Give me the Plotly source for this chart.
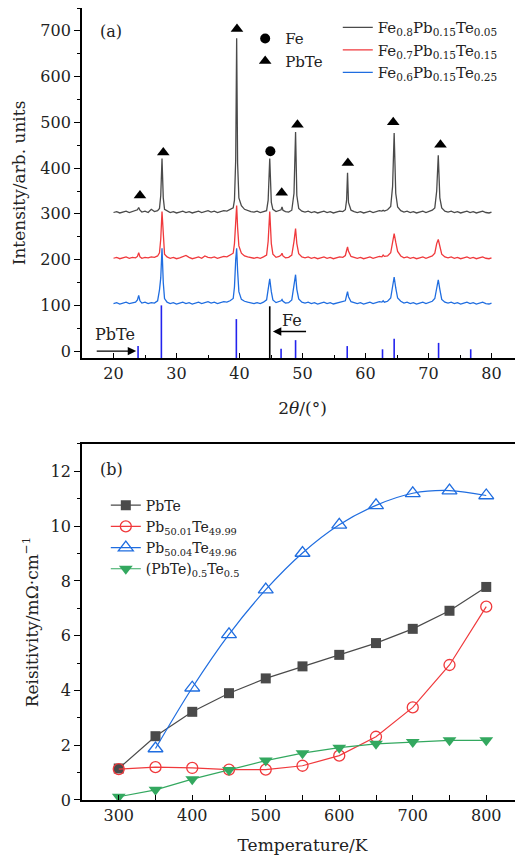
import plotly.graph_objects as go

# ---------------- (a) XRD data ----------------
two_theta = [
    20.0, 20.5, 21.0, 21.5, 22.0, 22.5, 23.0, 23.5,
    23.8, 24.0, 24.2,
    24.5, 25.0, 25.5, 26.0, 26.5, 27.0,
    27.3, 27.5, 27.7, 27.9, 28.1,
    28.5, 29.0, 29.5, 30.0, 30.5, 31.0, 31.5, 32.0, 32.5, 33.0, 33.5, 34.0, 34.5, 35.0, 35.5, 36.0, 36.5, 37.0, 37.5, 38.0, 38.5, 39.0,
    39.2, 39.4, 39.55, 39.7, 39.9,
    40.3, 40.8, 41.3, 41.8, 42.3, 42.8, 43.3, 43.8, 44.3,
    44.55, 44.8, 45.05, 45.3,
    45.8, 46.3,
    46.6, 46.75, 46.9,
    47.3, 47.8, 48.3,
    48.65, 48.9, 49.1, 49.4,
    49.9, 50.4, 50.9, 51.4, 51.9, 52.4, 52.9, 53.4, 53.9, 54.4, 54.9, 55.4, 55.9, 56.4, 56.8,
    57.0, 57.15, 57.3,
    57.7, 58.2, 58.7, 59.2, 59.7, 60.2, 60.7, 61.2, 61.7, 62.2, 62.6,
    62.8, 63.0,
    63.5, 64.0,
    64.3, 64.55, 64.8, 65.1,
    65.6, 66.1, 66.6, 67.1, 67.6, 68.1, 68.6, 69.1, 69.6, 70.1, 70.6, 71.0,
    71.3, 71.55, 71.8, 72.1,
    72.6, 73.1, 73.6, 74.1, 74.6, 75.1, 75.6, 76.1, 76.6, 77.1, 77.6, 78.1, 78.6, 79.1, 79.6, 80.0,
]

I_fe08 = [
    303, 305, 302, 304, 306, 303, 305, 307,
    309, 314, 308,
    304, 306, 303, 310, 305, 307,
    312, 340, 421, 335, 310,
    306, 303, 305, 302, 304, 306, 303, 305, 302, 304, 306, 303, 305, 307, 304, 306, 303, 305, 307, 306, 309, 313,
    330, 420, 684, 410, 335,
    318, 310, 307, 305, 304, 306, 303, 305, 307,
    330, 421, 325, 310,
    305, 307,
    309, 315, 308,
    305, 304, 308,
    345, 479, 340, 312,
    306, 304, 306, 303, 305, 302, 304, 306, 303, 305, 302, 304, 306, 305, 309,
    330, 390, 325,
    308, 305, 303, 305, 302, 304, 306, 303, 305, 307, 306,
    308, 306,
    309, 316,
    360, 477, 345, 315,
    307, 304, 306, 303, 305, 302, 304, 306, 303, 305, 308, 313,
    350, 428, 335, 313,
    306, 304, 306, 303, 305, 302, 304, 306, 303, 305, 302, 304, 306, 303, 302, 304,
]

I_fe07 = [
    203, 205, 202, 204, 206, 203, 205, 204,
    207, 215, 206,
    203, 205, 204, 206, 205, 208,
    215, 245, 305, 240, 212,
    206, 203, 205, 202, 204, 206, 209, 205, 202, 204, 206, 203, 208, 205, 204, 206, 203, 205, 207, 206, 210, 214,
    235, 290, 318, 270, 230,
    214, 208, 206, 204, 203, 205, 203, 206, 210,
    240, 305, 235, 212,
    205, 207,
    210, 214, 208,
    204, 205, 210,
    240, 268, 235, 213,
    206, 204, 206, 203, 205, 202, 204, 206, 203, 205, 202, 204, 206, 205, 209,
    220, 228, 218,
    207, 205, 203, 205, 202, 204, 206, 203, 205, 207, 206,
    210, 207,
    208, 215,
    240, 257, 238, 218,
    208, 204, 206, 203, 205, 202, 204, 206, 203, 205, 208, 214,
    235, 244, 232, 212,
    206, 204, 206, 203, 205, 202, 204, 206, 203, 205, 202, 204, 206, 203, 202, 204,
]

I_fe06 = [
    104, 106, 103, 105, 107, 104, 106, 107,
    112, 122, 110,
    105, 107, 104, 106, 105, 110,
    134, 160, 225, 150, 115,
    107, 104, 106, 103, 105, 107, 104, 106, 103, 105, 107, 104, 106, 108, 105, 107, 104, 106, 108, 107, 110, 115,
    140, 200, 225, 175, 130,
    113, 109, 107, 105, 104, 106, 104, 107, 112,
    135, 158, 130, 112,
    106, 108,
    110, 113, 109,
    105, 106, 112,
    140, 167, 135, 114,
    107, 105, 107, 104, 106, 103, 105, 107, 104, 106, 103, 105, 107, 108, 110,
    122, 130, 119,
    108, 106, 104, 106, 103, 105, 107, 104, 106, 108, 107,
    110, 107,
    109, 116,
    140, 162, 138, 116,
    109, 105, 107, 104, 106, 103, 105, 107, 104, 106, 109, 115,
    140, 156, 135, 113,
    107, 105, 107, 104, 106, 103, 105, 107, 104, 106, 103, 105, 107, 104, 103, 105,
]

xrd_names = [
    "Fe<sub>0.8</sub>Pb<sub>0.15</sub>Te<sub>0.05</sub>",
    "Fe<sub>0.7</sub>Pb<sub>0.15</sub>Te<sub>0.15</sub>",
    "Fe<sub>0.6</sub>Pb<sub>0.15</sub>Te<sub>0.25</sub>",
]

# reference stick patterns
pbte_ref_pos = [23.9, 27.6, 39.5, 46.6, 48.9, 57.1, 62.7, 64.55, 71.6, 76.7]
pbte_ref_int = [11, 100, 70, 5, 24, 11, 4, 27, 18, 4]
fe_ref_pos = [44.8]
fe_ref_int = [98]

# peak markers
fe_mark_x = [44.9]
fe_mark_y = [437]
pbte_mark_x = [24.2, 27.9, 39.6, 46.7, 49.2, 57.2, 64.4, 71.9]
pbte_mark_y = [340, 434, 704, 346, 495, 411, 500, 451]

# ---------------- (b) resistivity data ----------------
temperature = [300, 350, 400, 450, 500, 550, 600, 650, 700, 750, 800]
rho_pbte = [1.15, 2.33, 3.22, 3.90, 4.44, 4.88, 5.30, 5.73, 6.25, 6.91, 7.78]
rho_pb5001 = [1.13, 1.20, 1.17, 1.11, 1.11, 1.25, 1.62, 2.31, 3.38, 4.93, 7.06]
temp_5004 = [350, 400, 450, 500, 550, 600, 650, 700, 750, 800]
rho_pb5004 = [1.88, 4.10, 6.05, 7.68, 9.02, 10.05, 10.76, 11.20, 11.30, 11.12]
rho_pbte_te = [0.12, 0.37, 0.76, 1.10, 1.44, 1.71, 1.91, 2.05, 2.12, 2.18, 2.18]

res_names = [
    "PbTe",
    "Pb<sub>50.01</sub>Te<sub>49.99</sub>",
    "Pb<sub>50.04</sub>Te<sub>49.96</sub>",
    "(PbTe)<sub>0.5</sub>Te<sub>0.5</sub>",
]

FONT = "DejaVu Serif"
TXT = "#222"
C_BLACK = "#4a4a4a"
C_RED = "#f0393c"
C_BLUE = "#1f6de0"
C_GREEN = "#33a85f"

fig = go.Figure()

for name, y, c in zip(xrd_names, [I_fe08, I_fe07, I_fe06], [C_BLACK, C_RED, C_BLUE]):
    fig.add_trace(go.Scatter(x=two_theta, y=y, mode="lines", name=name,
                             line=dict(color=c, width=1.3), xaxis="x", yaxis="y",
                             legend="legend"))

sx, sy = [], []
for p, h in zip(pbte_ref_pos, pbte_ref_int):
    sx += [p, p, None]
    sy += [-15, h, None]
fig.add_trace(go.Scatter(x=sx, y=sy, mode="lines", line=dict(color="#2323ee", width=1.6),
                         showlegend=False, xaxis="x", yaxis="y"))
fx, fy = [], []
for p, h in zip(fe_ref_pos, fe_ref_int):
    fx += [p, p, None]
    fy += [-15, h, None]
fig.add_trace(go.Scatter(x=fx, y=fy, mode="lines", line=dict(color="black", width=1.6),
                         showlegend=False, xaxis="x", yaxis="y"))

fig.add_trace(go.Scatter(x=fe_mark_x, y=fe_mark_y, mode="markers", name="Fe",
                         marker=dict(symbol="circle", size=10, color="black"),
                         xaxis="x", yaxis="y", legend="legend2"))
fig.add_trace(go.Scatter(x=pbte_mark_x, y=pbte_mark_y, mode="markers", name="PbTe",
                         marker=dict(symbol="triangle-up", size=11, color="black"),
                         xaxis="x", yaxis="y", legend="legend2"))

fig.add_trace(go.Scatter(x=temperature, y=rho_pbte, mode="lines+markers", name=res_names[0],
                         line=dict(color=C_BLACK, width=1.2),
                         marker=dict(symbol="square", size=10, color=C_BLACK),
                         xaxis="x2", yaxis="y2", legend="legend3"))
fig.add_trace(go.Scatter(x=temperature, y=rho_pb5001, mode="lines+markers", name=res_names[1],
                         line=dict(color=C_RED, width=1.2),
                         marker=dict(symbol="circle-open", size=11, color=C_RED, line=dict(width=1.3)),
                         xaxis="x2", yaxis="y2", legend="legend3"))
fig.add_trace(go.Scatter(x=temp_5004, y=rho_pb5004, mode="lines+markers", name=res_names[2],
                         line=dict(color=C_BLUE, width=1.2, shape="spline"),
                         marker=dict(symbol="triangle-up-open", size=13, color=C_BLUE, line=dict(width=1.3)),
                         xaxis="x2", yaxis="y2", legend="legend3"))
fig.add_trace(go.Scatter(x=temperature, y=rho_pbte_te, mode="lines+markers", name=res_names[3],
                         line=dict(color=C_GREEN, width=1.2),
                         marker=dict(symbol="triangle-down", size=12, color=C_GREEN),
                         xaxis="x2", yaxis="y2", legend="legend3"))

tickfont = dict(family=FONT, size=16, color=TXT)
titlefont = dict(family=FONT, size=17, color=TXT)

axis_common = dict(showline=True, linecolor="black", linewidth=1.8, showgrid=False,
                   zeroline=False, tickfont=tickfont, tickcolor="black", automargin=False)

# page is offset by the 8px body margin, so the figure is sized to compensate
fig.update_layout(
    width=515, height=851,
    margin=dict(l=74, r=0, t=0, b=59),
    paper_bgcolor="white", plot_bgcolor="white",
    font=dict(family=FONT, size=16, color=TXT),
    xaxis=dict(domain=[0, 1], range=[15, 85], anchor="y", mirror=True,
               ticks="inside", ticklen=5, tickwidth=1.3, dtick=10, tick0=0,
               minor=dict(ticks="inside", ticklen=3, dtick=5, tickcolor="black"),
               title=dict(text="2<i>θ</i>/(°)", font=titlefont, standoff=20),
               **axis_common),
    yaxis=dict(domain=[0.5581, 1], range=[-15, 750], anchor="x",
               ticks="outside", ticklen=6, tickwidth=1.3, dtick=100, tick0=0,
               minor=dict(ticks="outside", ticklen=3, dtick=50, tickcolor="black"),
               title=dict(text="Intensity/arb. units", font=titlefont, standoff=10),
               **axis_common),
    xaxis2=dict(domain=[0, 1], range=[250, 850], anchor="y2", mirror=True,
                ticks="inside", ticklen=5, tickwidth=1.3, dtick=100, tick0=0,
                minor=dict(ticks="inside", ticklen=5, dtick=50, tickcolor="black"),
                title=dict(text="Temperature/K", font=titlefont, standoff=15),
                **axis_common),
    yaxis2=dict(domain=[0, 0.4495], range=[0, 13], anchor="x2",
                ticks="outside", ticklen=6, tickwidth=1.3, dtick=2, tick0=0,
                minor=dict(ticks="outside", ticklen=3, dtick=1, tickcolor="black"),
                title=dict(text="Reisitivity/mΩ·cm<sup>−1</sup>", font=titlefont, standoff=8),
                **axis_common),
    legend=dict(x=0.58, y=0.996, xanchor="left", yanchor="top", bgcolor="rgba(0,0,0,0)",
                font=dict(family=FONT, size=15, color=TXT), tracegroupgap=0,
                itemwidth=30),
    legend2=dict(x=0.37, y=0.982, xanchor="left", yanchor="top", bgcolor="rgba(0,0,0,0)",
                 font=dict(family=FONT, size=15, color=TXT), itemwidth=30),
    legend3=dict(x=0.054, y=0.392, xanchor="left", yanchor="top", bgcolor="rgba(0,0,0,0)",
                 font=dict(family=FONT, size=14, color=TXT), itemwidth=30),
    annotations=[
        dict(text="(a)", x=0.036, y=0.970, xref="paper", yref="paper", showarrow=False,
             xanchor="left", yanchor="middle", font=dict(family=FONT, size=16, color=TXT)),
        dict(text="(b)", x=0.036, y=0.417, xref="paper", yref="paper", showarrow=False,
             xanchor="left", yanchor="middle", font=dict(family=FONT, size=16, color=TXT)),
        dict(text="PbTe", x=20.3, y=36, xref="x", yref="y", showarrow=False,
             font=dict(family=FONT, size=16, color=TXT)),
        dict(text="Fe", x=48.4, y=67, xref="x", yref="y", showarrow=False,
             font=dict(family=FONT, size=16, color=TXT)),
        dict(text="", x=23.6, y=0, ax=17.1, ay=0, xref="x", yref="y", axref="x", ayref="y",
             showarrow=True, arrowhead=2, arrowsize=1.2, arrowwidth=1.4, arrowcolor="black"),
        dict(text="", x=45.3, y=43, ax=50.8, ay=43, xref="x", yref="y", axref="x", ayref="y",
             showarrow=True, arrowhead=2, arrowsize=1.2, arrowwidth=1.4, arrowcolor="black"),
    ],
)

fig.write_html("out.html")
